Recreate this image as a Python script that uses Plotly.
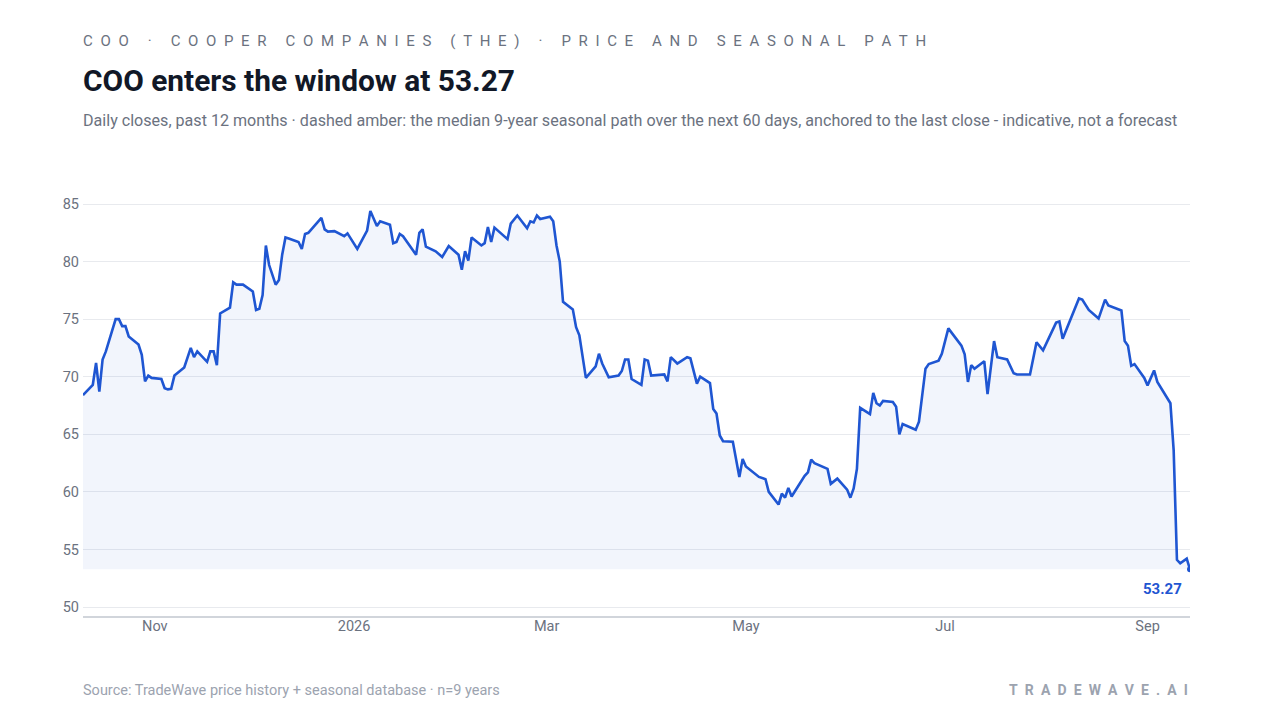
import plotly.graph_objects as go

# daily closes (vertices of the line)
dates = [
    "2025-10-10", "2025-10-13", "2025-10-14", "2025-10-15", "2025-10-16", "2025-10-17",
    "2025-10-20", "2025-10-21", "2025-10-22", "2025-10-23", "2025-10-24", "2025-10-27",
    "2025-10-28", "2025-10-29", "2025-10-30", "2025-10-31", "2025-11-03", "2025-11-04",
    "2025-11-05", "2025-11-06", "2025-11-07", "2025-11-10", "2025-11-12", "2025-11-13",
    "2025-11-14", "2025-11-17", "2025-11-18", "2025-11-19", "2025-11-20", "2025-11-21",
    "2025-11-24", "2025-11-25", "2025-11-26", "2025-11-28", "2025-12-01", "2025-12-02",
    "2025-12-03", "2025-12-04", "2025-12-05", "2025-12-06", "2025-12-08", "2025-12-09",
    "2025-12-10", "2025-12-11", "2025-12-12", "2025-12-15", "2025-12-16", "2025-12-17",
    "2025-12-18", "2025-12-22", "2025-12-23", "2025-12-24", "2025-12-26", "2025-12-29",
    "2025-12-30", "2026-01-02", "2026-01-05", "2026-01-06", "2026-01-08", "2026-01-09",
    "2026-01-12", "2026-01-13", "2026-01-14", "2026-01-15", "2026-01-16", "2026-01-20",
    "2026-01-21", "2026-01-22", "2026-01-23", "2026-01-26", "2026-01-28", "2026-01-30",
    "2026-02-02", "2026-02-03", "2026-02-04", "2026-02-05", "2026-02-06", "2026-02-09",
    "2026-02-10", "2026-02-11", "2026-02-12", "2026-02-13", "2026-02-17", "2026-02-18",
    "2026-02-20", "2026-02-23", "2026-02-24", "2026-02-25", "2026-02-26", "2026-02-27",
    "2026-03-02", "2026-03-03", "2026-03-04", "2026-03-05", "2026-03-06", "2026-03-09",
    "2026-03-10", "2026-03-11", "2026-03-13", "2026-03-16", "2026-03-17", "2026-03-18",
    "2026-03-20", "2026-03-23", "2026-03-24", "2026-03-25", "2026-03-26", "2026-03-27",
    "2026-03-30", "2026-03-31", "2026-04-01", "2026-04-02", "2026-04-06", "2026-04-07",
    "2026-04-08", "2026-04-10", "2026-04-13", "2026-04-14", "2026-04-16", "2026-04-17",
    "2026-04-20", "2026-04-21", "2026-04-22", "2026-04-23", "2026-04-24", "2026-04-27",
    "2026-04-29", "2026-04-30", "2026-05-01", "2026-05-05", "2026-05-07", "2026-05-08",
    "2026-05-11", "2026-05-12", "2026-05-13", "2026-05-14", "2026-05-15", "2026-05-19",
    "2026-05-20", "2026-05-21", "2026-05-22", "2026-05-26", "2026-05-27", "2026-05-29",
    "2026-06-01", "2026-06-02", "2026-06-03", "2026-06-04", "2026-06-05", "2026-06-08",
    "2026-06-09", "2026-06-10", "2026-06-11", "2026-06-12", "2026-06-15", "2026-06-16",
    "2026-06-17", "2026-06-18", "2026-06-22", "2026-06-23", "2026-06-25", "2026-06-26",
    "2026-06-29", "2026-06-30", "2026-07-02", "2026-07-06", "2026-07-07", "2026-07-08",
    "2026-07-09", "2026-07-10", "2026-07-13", "2026-07-14", "2026-07-16", "2026-07-17",
    "2026-07-20", "2026-07-22", "2026-07-23", "2026-07-27", "2026-07-29", "2026-07-31",
    "2026-08-04", "2026-08-05", "2026-08-06", "2026-08-11", "2026-08-12", "2026-08-14",
    "2026-08-17", "2026-08-19", "2026-08-20", "2026-08-21", "2026-08-24", "2026-08-25",
    "2026-08-26", "2026-08-27", "2026-08-28", "2026-08-31", "2026-09-01", "2026-09-03",
    "2026-09-04", "2026-09-08", "2026-09-09", "2026-09-10", "2026-09-11", "2026-09-13",
    "2026-09-14",
]
closes = [
    68.4, 69.3, 71.2, 68.7, 71.5, 72.2,
    75.0, 75.0, 74.4, 74.4, 73.5, 72.8,
    71.9, 69.6, 70.1, 69.9, 69.8, 69.0,
    68.9, 68.95, 70.1, 70.8, 72.5, 71.7,
    72.2, 71.3, 72.2, 72.2, 71.0, 75.5,
    76.0, 78.2, 78.0, 78.0, 77.4, 75.8,
    75.9, 77.1, 81.4, 79.7, 78.0, 78.4,
    80.6, 82.1, 82.0, 81.7, 81.1, 82.4,
    82.5, 83.8, 82.8, 82.6, 82.65, 82.2,
    82.45, 81.1, 82.7, 84.4, 83.1, 83.5,
    83.2, 81.6, 81.7, 82.4, 82.2, 80.6,
    82.5, 82.8, 81.3, 80.9, 80.4, 81.35,
    80.6, 79.3, 80.9, 80.1, 82.1, 81.4,
    81.6, 83.0, 81.7, 82.95, 81.95, 83.3,
    84.0, 82.9, 83.5, 83.4, 84.0, 83.7,
    83.9, 83.5, 81.4, 80.0, 76.5, 75.85,
    74.3, 73.6, 69.9, 70.9, 72.0, 71.15,
    69.95, 70.1, 70.5, 71.5, 71.5, 69.8,
    69.3, 71.5, 71.4, 70.1, 70.2, 69.6,
    71.7, 71.15, 71.7, 71.6, 69.4, 70.0,
    69.45, 67.2, 66.8, 64.9, 64.4, 64.35,
    61.3, 62.85, 62.2, 61.3, 61.1, 60.0,
    58.9, 59.85, 59.5, 60.35, 59.6, 61.4,
    61.7, 62.8, 62.5, 62.0, 60.7, 61.15,
    60.2, 59.5, 60.3, 62.0, 67.3, 66.75,
    68.6, 67.7, 67.5, 67.9, 67.8, 67.4,
    65.0, 65.9, 65.4, 66.1, 70.7, 71.1,
    71.4, 72.0, 74.2, 72.7, 71.95, 69.55,
    71.0, 70.7, 71.35, 68.5, 73.1, 71.7,
    71.5, 70.3, 70.2, 70.2, 73.0, 72.3,
    74.7, 74.8, 73.3, 76.8, 76.7, 75.8,
    75.05, 76.7, 76.2, 76.1, 75.75, 73.1,
    72.7, 70.95, 71.1, 69.9, 69.25, 70.55,
    69.55, 67.7, 63.6, 54.1, 53.8, 54.2,
    53.27,
]

tick_dates = ["2025-11-01", "2026-01-01", "2026-03-01", "2026-05-01", "2026-07-01", "2026-09-01"]
tick_labels = ["Nov", "2026", "Mar", "May", "Jul", "Sep"]
y_ticks = [50, 55, 60, 65, 70, 75, 80, 85]

BLUE = "#1f56d2"
FONT = "Roboto"

low = min(closes)

fig = go.Figure()
fig.add_trace(go.Scatter(
    x=[dates[0], dates[-1]], y=[low, low],
    mode="lines", line=dict(width=0), hoverinfo="skip", showlegend=False,
))
fig.add_trace(go.Scatter(
    x=dates, y=closes, mode="lines",
    line=dict(color=BLUE, width=2.6),
    fill="tonexty", fillcolor="rgba(31,86,210,0.06)",
    showlegend=False,
))
fig.add_trace(go.Scatter(
    x=[dates[-1]], y=[closes[-1]], mode="markers",
    marker=dict(color=BLUE, size=6), showlegend=False,
))

fig.add_annotation(
    x=dates[-1], y=closes[-1], xref="x", yref="y",
    text="<b>%.2f</b>" % closes[-1], showarrow=False,
    xanchor="right", yanchor="top", xshift=-6, yshift=-9,
    font=dict(family=FONT, size=15, color=BLUE),
)

EN = "\u2002"


def spaced(s):
    # fake letter-spacing: en space between letters, wider gap between words
    return (EN + " " + EN).join(EN.join(w) for w in s.split(" "))


texts = [
    (spaced("COO · COOPER COMPANIES (THE) · PRICE AND SEASONAL PATH"), 0, 1.382, "left", 15, "#6b7280"),
    ("<b>COO enters the window at 53.27</b>", 0, 1.288, "left", 29.9, "#111827"),
    ("Daily closes, past 12 months · dashed amber: the median 9-year seasonal path over the next 60 days, "
     "anchored to the last close - indicative, not a forecast", 0, 1.19, "left", 16.1, "#6b7280"),
    ("Source: TradeWave price history + seasonal database · n=9 years", 0, -0.178, "left", 14.5, "#9ca3af"),
    ("<b>" + spaced("TRADEWAVE.AI") + "</b>", 1, -0.178, "right", 14, "#9ca3af"),
]
for txt, x, y, anchor, size, color in texts:
    fig.add_annotation(
        x=x, y=y, xref="paper", yref="paper", text=txt, showarrow=False,
        xanchor=anchor, yanchor="middle", xshift=-2 if anchor == "left" else 0,
        font=dict(family=FONT, size=size, color=color),
    )

# the page puts the figure 8px in from the top-left corner, so shrink it by that much
fig.update_layout(
    width=1272, height=712,
    margin=dict(l=75, r=90, t=192, b=104),
    paper_bgcolor="white", plot_bgcolor="white",
    font=dict(family=FONT, size=14, color="#6b7280"),
    xaxis=dict(
        range=[dates[0], dates[-1]], tickvals=tick_dates, ticktext=tick_labels,
        showgrid=False, showline=True, linecolor="#d1d5db", linewidth=1.5,
        ticks="", zeroline=False, tickfont=dict(size=14.5, color="#6b7280"),
        ticklabelstandoff=-4,
    ),
    yaxis=dict(
        range=[49.22, 85.35], tickvals=y_ticks, showgrid=True, gridcolor="#e8eaee",
        gridwidth=1, zeroline=False, showline=False, ticks="",
        tickfont=dict(size=14.5, color="#6b7280"), ticklabelstandoff=3,
    ),
    hovermode="x",
)

fig.write_html("out.html")
